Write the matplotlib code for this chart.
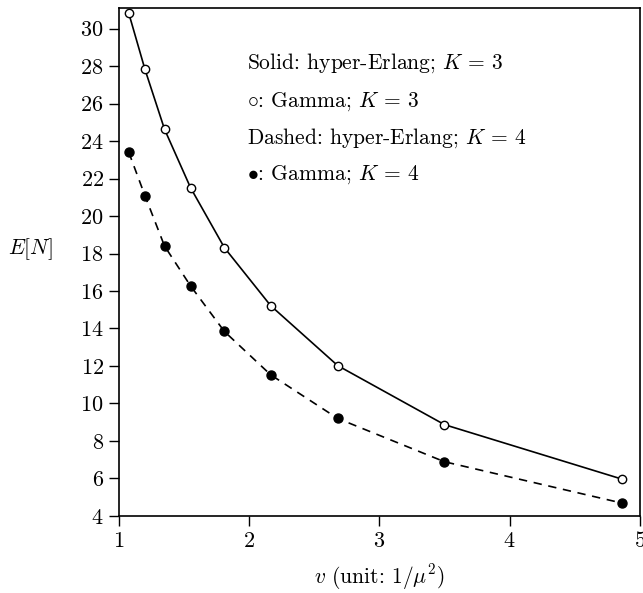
import numpy as np
import matplotlib
matplotlib.use("Agg")
import matplotlib.pyplot as plt

# values
v = [1.075, 1.20, 1.35, 1.55, 1.81, 2.165, 2.68, 3.50, 4.86]
en_k3 = [30.83, 27.82, 24.63, 21.51, 18.31, 15.22, 12.02, 8.87, 5.97]
en_k4 = [23.41, 21.08, 18.40, 16.27, 13.84, 11.53, 9.20, 6.89, 4.69]

xticks = [1, 2, 3, 4, 5]
yticks = list(range(4, 31, 2))

notes = [
    r"Solid: hyper-Erlang; $K\,=\,3$",
    r"$\circ$: Gamma; $K\,=\,3$",
    r"Dashed: hyper-Erlang; $K\,=\,4$",
    r"$\bullet$: Gamma; $K\,=\,4$",
]

plt.rcParams["font.family"] = "serif"
plt.rcParams["font.serif"] = ["cmr10", "DejaVu Serif"]
plt.rcParams["mathtext.fontset"] = "cm"
plt.rcParams["axes.formatter.use_mathtext"] = True

fig = plt.figure(figsize=(6.43, 5.93), dpi=100)
ax = fig.add_axes([0.185, 0.130, 0.810, 0.8565])

ax.plot(v, en_k3, color="black", lw=1.2, linestyle="-",
        marker="o", markersize=6, markerfacecolor="white",
        markeredgecolor="black", markeredgewidth=1.0)
ax.plot(v, en_k4, color="black", lw=1.2, linestyle=(0, (5, 4)),
        marker="o", markersize=6.5, markerfacecolor="black",
        markeredgecolor="black")

ax.set_xlim(1, 5)
ax.set_ylim(4, 31.1)
ax.set_xticks(xticks)
ax.set_yticks(yticks)
ax.tick_params(direction="out", length=7, width=1, pad=4, labelsize=16)
for s in ax.spines.values():
    s.set_linewidth(1.2)

ax.set_xlabel(r"$v$ (unit: $1/\mu^2$)", fontsize=15.5, labelpad=8)
ax.set_ylabel(r"$E[N]$", fontsize=15.5, rotation=0)
ax.yaxis.set_label_coords(-0.17, 0.5)

ypos = [0.892, 0.815, 0.744, 0.671]
for t, yy in zip(notes, ypos):
    ax.text(0.2457, yy, t, transform=ax.transAxes, fontsize=15.5,
            va="center", ha="left")

fig.savefig("out.png", dpi=100)
